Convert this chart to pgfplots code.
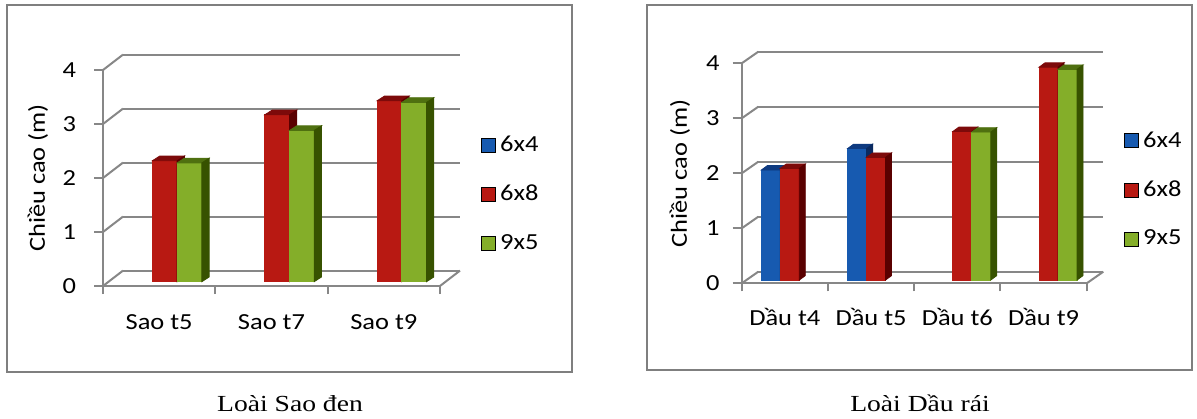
\documentclass[border=0pt]{standalone}
\usepackage{fontspec}
\setmainfont{Carlito}[FakeStretch=1.15]
\newfontfamily\capfont{Liberation Serif}[FakeStretch=1.2]
\usepackage{pgfplots}
\pgfplotsset{compat=1.18}
\definecolor{gridc}{HTML}{878787}
\definecolor{boxc}{HTML}{7F7F7F}
\definecolor{bF}{HTML}{175AB0}\definecolor{bT}{HTML}{0E3A80}\definecolor{bS}{HTML}{0A2A60}
\definecolor{rF}{HTML}{B81912}\definecolor{rT}{HTML}{7D0A0A}\definecolor{rS}{HTML}{5A0000}
\definecolor{gF}{HTML}{84AE29}\definecolor{gT}{HTML}{4F7010}\definecolor{gS}{HTML}{375200}
\pgfdeclareplotmark{nothing}{}
% #1 front, #2 top, #3 side colour, #4 plane shift, #5 plane+depth shift
\pgfplotsset{
  bar3d/.style n args={5}{%
    scatter, only marks, mark=nothing, forget plot,
    visualization depends on={value \thisrow{v}\as\val},
    scatter/@pre marker code/.code={%
        \fill[#1] ([shift={#4}]axis direction cs:-0.11,0) -- ([shift={#4}]axis direction cs:0.11,0) -- ([shift={#4}]axis direction cs:0.11,-\val) -- ([shift={#4}]axis direction cs:-0.11,-\val) -- cycle;
        \fill[#2] ([shift={#4}]axis direction cs:-0.11,0) -- ([shift={#4}]axis direction cs:0.11,0) -- ([shift={#5}]axis direction cs:0.11,0) -- ([shift={#5}]axis direction cs:-0.11,0) -- cycle;
        \fill[#3] ([shift={#4}]axis direction cs:0.11,0) -- ([shift={#5}]axis direction cs:0.11,0) -- ([shift={#5}]axis direction cs:0.11,-\val) -- ([shift={#4}]axis direction cs:0.11,-\val) -- cycle;
      },
    scatter/@post marker code/.code={},
  },
  chart3d/.style={
    scale only axis, anchor=south west, clip=false,
    ymin=0, ymax=4, ytick={0,1,2,3,4},
    axis lines*=left,
    axis line style={draw=gridc, line width=1pt, -},
    every tick/.style={draw=gridc, line width=1pt},
    tick align=outside, major tick length=4.5pt, minor tick length=4pt,
    major x tick style={draw=none},
    ymajorgrids,
    tick label style={font=\fontsize{11.5}{13}\selectfont, text=black},
    xticklabel style={anchor=base},
    /pgf/number format/assume math mode=true,
    every axis y label/.style={rotate=90, anchor=center, font=\fontsize{11.5}{13}\selectfont},
    legend image code/.code={\fill[##1] (0pt,-3.5pt) rectangle (7pt,3.5pt);},
    legend style={draw=none, fill=none, inner sep=0pt, anchor=west,
      font=\fontsize{11.5}{13}\selectfont, row sep=11.3pt},
    legend cell align=left,
  },
}
\begin{document}
\begin{tikzpicture}
\useasboundingbox (0,0) rectangle (598.5pt,209pt);
% frames
\draw[boxc, line width=1pt] (3.5pt,206.5pt) rectangle (286pt,23pt);
\draw[boxc, line width=1pt] (323.5pt,206.5pt) rectangle (596pt,24pt);
% left chart
\begin{axis}[chart3d,
  at={(51.5pt,66pt)}, width=168.5pt, height=108pt,
  xmin=-0.5, xmax=2.5,
  xtick={0,1,2}, xticklabels={Sao t5, Sao t7, Sao t9},
  minor xtick={-0.5,0.5,1.5,2.5},
  xticklabel style={yshift=-17pt},
  yticklabel style={xshift=-5.5pt},
  major grid style={draw=gridc, line width=1pt, xshift=10pt, yshift=7.7pt},
  ylabel={Chiều cao (m)},
  ylabel style={at={(axis description cs:-0.193,0.5)}},
  legend style={at={(1.1217,0.426)}},
]
\pgfplotsinvokeforeach{0,...,4}{\draw[gridc, line width=1pt] (axis cs:-0.5,#1) -- ++(10pt,7.7pt);}
\draw[gridc, line width=1pt] (axis cs:2.5,0) -- ++(10pt,7.7pt);
\addlegendimage{fill=bF}\addlegendentry{6x4}
\addlegendimage{fill=rF}\addlegendentry{6x8}
\addlegendimage{fill=gF}\addlegendentry{9x5}
% 6x8
\addplot[bar3d={rF}{rT}{rS}{(2.8pt,2.15pt)}{(6.45pt,4.5pt)}] table[x expr=\thisrow{c}, y=v] {
c v
0 2.24
1 3.09
2 3.35
};
% 9x5
\addplot[bar3d={gF}{gT}{gS}{(2.8pt,2.15pt)}{(6.45pt,4.5pt)}] table[x expr=\thisrow{c}+0.22, y=v] {
c v
0 2.20
1 2.80
2 3.32
};
\end{axis}
% right chart
\begin{axis}[chart3d,
  at={(370.85pt,67.35pt)}, width=172.5pt, height=110pt,
  xmin=-0.5, xmax=3.5,
  xtick={0,1,2,3}, xticklabels={Dầu t4, Dầu t5, Dầu t6, Dầu t9},
  minor xtick={-0.5,0.5,1.5,2.5,3.5},
  xticklabel style={yshift=-16.4pt},
  yticklabel style={xshift=-3pt},
  major grid style={draw=gridc, line width=1pt, xshift=8.3pt, yshift=5.8pt},
  ylabel={Chiều cao (m)},
  ylabel style={at={(axis description cs:-0.179,0.5)}},
  legend style={at={(1.108,0.425)}},
]
\pgfplotsinvokeforeach{0,...,4}{\draw[gridc, line width=1pt] (axis cs:-0.5,#1) -- ++(8.3pt,5.8pt);}
\draw[gridc, line width=1pt] (axis cs:3.5,0) -- ++(8.3pt,5.8pt);
\addlegendimage{fill=bF}\addlegendentry{6x4}
\addlegendimage{fill=rF}\addlegendentry{6x8}
\addlegendimage{fill=gF}\addlegendentry{9x5}
% 6x4
\addplot[bar3d={bF}{bT}{bS}{(2.5pt,1.65pt)}{(5.5pt,3.85pt)}] table[x expr=\thisrow{c}-0.22, y=v] {
c v
0 2.00
1 2.39
};
% 6x8
\addplot[bar3d={rF}{rT}{rS}{(2.5pt,1.65pt)}{(5.5pt,3.85pt)}] table[x expr=\thisrow{c}, y=v] {
c v
0 2.03
1 2.23
2 2.70
3 3.87
};
% 9x5
\addplot[bar3d={gF}{gT}{gS}{(2.5pt,1.65pt)}{(5.5pt,3.85pt)}] table[x expr=\thisrow{c}+0.22, y=v] {
c v
2 2.69
3 3.83
};
\end{axis}
% captions
\node[font=\capfont\fontsize{11.5}{13}\selectfont, anchor=base] at (145pt,3.5pt) {Loài Sao đen};
\node[font=\capfont\fontsize{11.5}{13}\selectfont, anchor=base] at (460pt,3.5pt) {Loài Dầu rái};
\end{tikzpicture}
\end{document}
